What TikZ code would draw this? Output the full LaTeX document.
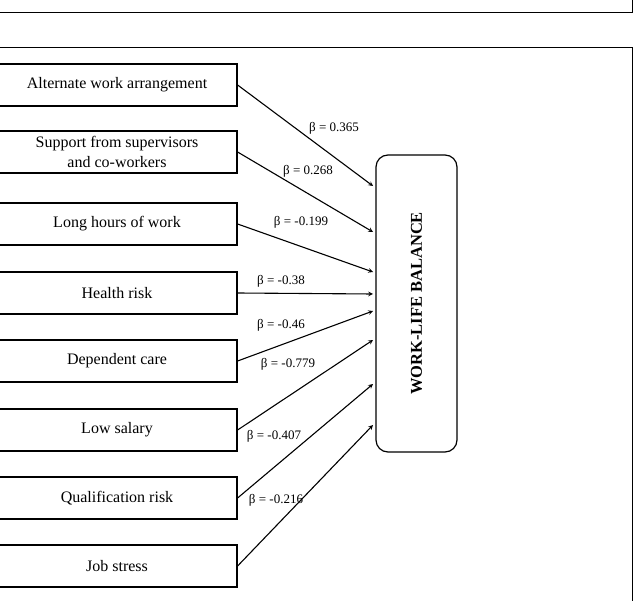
\documentclass[tikz,border=0pt]{standalone}
\usepackage{fontspec}
\setmainfont{Liberation Serif}
\usetikzlibrary{positioning}
\begin{document}
\begin{tikzpicture}
		[   x=1pt,y=-1pt,
		    fbox/.style={draw=black,line width=1.2pt,fill=white,minimum width=240pt,minimum height=42pt,align=center,font=\fontsize{16}{20}\selectfont},
		]
		\tikzset{normal arrow/.style={draw,line width=1.1pt,-stealth}}
		\tikzset{beta/.style={font=\fontsize{13}{14}\selectfont}}
		\useasboundingbox (0,0) rectangle (639,601);
		\draw (0,12) -- (632,12) -- (632,0);
		\draw (0,47) -- (632,47) -- (632,601);
		
		\node[fbox] (f-1) at (117,85) {Alternate work arrangement};
		\node[fbox] (f-2) at (117,152) {Support from supervisors\\and co-workers};
		\node[fbox] (f-3) at (117,224) {Long hours of work};
		\node[fbox] (f-4) at (117,293) {Health risk};
		\node[fbox] (f-5) at (117,361) {Dependent care};
		\node[fbox] (f-6) at (117,430) {Low salary};
		\node[fbox] (f-7) at (117,498) {Qualification risk};
		\node[fbox] (f-8) at (117,566) {Job stress};
		
		\node[draw=black,line width=1.2pt,rounded corners=12pt,minimum width=81pt,minimum height=297pt] (wlb) at (416.5,303.5) {};
		\node[rotate=90,font=\fontsize{16.5}{17}\selectfont\bfseries] (wlb-t) at (wlb.center) {WORK-LIFE BALANCE};
		
		\coordinate (t-1) at (373,186);
		\coordinate (t-2) at (373,232);
		\coordinate (t-3) at (373,272);
		\coordinate (t-4) at (373,294);
		\coordinate (t-5) at (373,311);
		\coordinate (t-6) at (373,340);
		\coordinate (t-7) at (373,384);
		\coordinate (t-8) at (373,425);
		
		\foreach \x in {1,...,8}
		{
			\path[normal arrow] (f-\x.east) -- (t-\x);
		}
		
		\node[beta] (b-1) at (334,128) {β = 0.365};
		\node[beta] (b-2) at (308,171) {β = 0.268};
		\node[beta] (b-3) at (301,222) {β = -0.199};
		\node[beta] (b-4) at (281,281) {β = -0.38};
		\node[beta] (b-5) at (281,325) {β = -0.46};
		\node[beta] (b-6) at (288,364) {β = -0.779};
		\node[beta] (b-7) at (274,436) {β = -0.407};
		\node[beta] (b-8) at (276,500) {β = -0.216};
\end{tikzpicture}
\end{document}
